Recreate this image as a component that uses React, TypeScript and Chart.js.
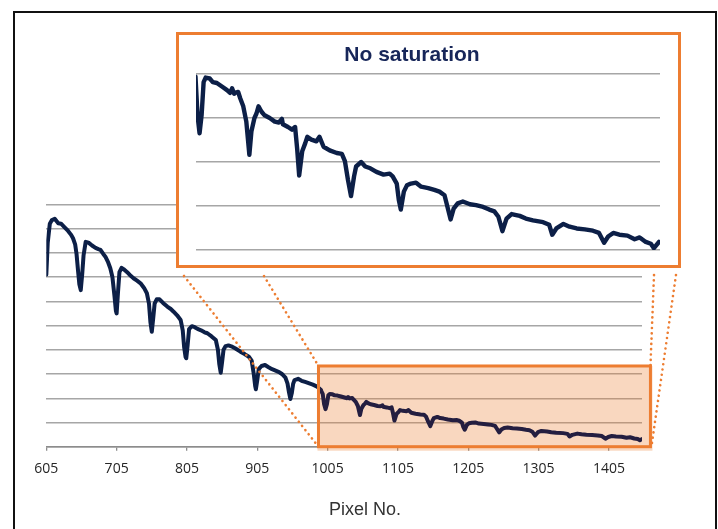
import React, { useEffect, useRef } from "react";
import { Chart, registerables } from "chart.js";

Chart.register(...registerables);

// ---------- data ----------
const pixelNo: number[] = [
  605, 607, 610, 613, 617, 622, 626, 630, 636, 640, 643, 646, 648, 650, 652, 654, 656, 658, 661, 665,
  670, 675, 679, 682, 686, 689, 693, 696, 699, 702, 704, 705, 707, 709, 712, 716, 720, 725, 729, 734,
  739, 744, 748, 751, 753, 755, 757, 759, 762, 766, 771, 777, 782, 786, 791, 796, 799, 801, 803, 804,
  806, 808, 812, 816, 820, 825, 830, 834, 840, 846, 849, 851, 853, 855, 857, 860, 864, 868, 874, 881,
  887, 893, 897, 900, 902, 903, 905, 907, 911, 916, 921, 926, 931, 936, 940, 945, 948, 950, 952, 954,
  956, 958, 963, 968, 973, 978, 984, 990, 995, 998, 1000, 1002, 1004, 1006, 1008, 1012, 1015, 1019, 1024,
  1029, 1032, 1034, 1036, 1037, 1040, 1042, 1045, 1048, 1051, 1053, 1056, 1058, 1060, 1063, 1066, 1071,
  1076, 1080, 1083, 1084, 1089, 1093, 1096, 1098, 1100, 1103, 1106, 1108, 1112, 1117, 1120, 1124, 1130,
  1137, 1142, 1145, 1148, 1151, 1154, 1156, 1161, 1165, 1170, 1176, 1183, 1189, 1192, 1196, 1198, 1200,
  1203, 1206, 1210, 1215, 1220, 1227, 1233, 1238, 1243, 1245, 1249, 1252, 1256, 1261, 1268, 1274, 1281,
  1287, 1292, 1296, 1300, 1304, 1309, 1317, 1323, 1330, 1340, 1346, 1349, 1353, 1360, 1366, 1373, 1381,
  1389, 1395, 1400, 1404, 1409, 1415, 1423, 1430, 1435, 1441, 1446, 1449, 1454,
];

const intensity: number[] = [
  7.1, 8.4, 9.2, 9.35, 9.4, 9.22, 9.2, 9.08, 8.9, 8.75, 8.6, 8.35, 7.95, 7.3, 6.7, 6.46, 7.1, 7.9, 8.45, 8.42,
  8.3, 8.2, 8.15, 8.12, 7.95, 7.84, 7.6, 7.36, 7.0, 6.2, 5.6, 5.5, 6.4, 7.2, 7.38, 7.3, 7.2, 7.05, 6.95, 6.85,
  6.74, 6.55, 6.33, 5.9, 5.15, 4.74, 5.3, 5.9, 6.08, 6.08, 5.93, 5.78, 5.68, 5.57, 5.42, 5.23, 4.8, 4.1, 3.7, 3.65,
  4.2, 4.85, 4.97, 4.93, 4.86, 4.8, 4.72, 4.68, 4.55, 4.4, 4.0, 3.4, 3.05, 3.5, 4.0, 4.15, 4.18, 4.14, 4.05, 3.92,
  3.82, 3.71, 3.55, 3.0, 2.5, 2.37, 2.75, 3.2, 3.33, 3.37, 3.28, 3.2, 3.14, 3.08, 3.0, 2.85, 2.6, 2.25, 1.97, 2.2,
  2.6, 2.75, 2.8, 2.72, 2.67, 2.62, 2.56, 2.48, 2.35, 2.18, 1.75, 1.55, 1.75, 2.12, 2.17, 2.16, 2.12, 2.11, 2.07,
  2.03, 2.0, 2.05, 1.99, 2.0, 2.01, 1.94, 1.85, 1.68, 1.31, 1.57, 1.72, 1.77, 1.85, 1.79, 1.75, 1.72,
  1.68, 1.67, 1.71, 1.65, 1.62, 1.59, 1.62, 1.38, 1.08, 1.35, 1.44, 1.51, 1.48, 1.46, 1.51, 1.4, 1.36,
  1.33, 1.32, 1.24, 1.03, 0.85, 1.07, 1.18, 1.23, 1.18, 1.16, 1.12, 1.09, 1.1, 1.07, 0.99, 0.81, 0.7,
  0.9, 0.97, 0.99, 1.0, 0.955, 0.94, 0.92, 0.9, 0.86, 0.77, 0.59, 0.71, 0.77, 0.79, 0.76, 0.75, 0.73,
  0.7, 0.68, 0.62, 0.46, 0.6, 0.65, 0.63, 0.6, 0.58, 0.56, 0.53, 0.42, 0.49, 0.54, 0.51, 0.49, 0.48,
  0.465, 0.44, 0.33, 0.4, 0.44, 0.42, 0.41, 0.37, 0.39, 0.34, 0.32, 0.27, 0.34,
];

const xTickLabels: number[] = [605, 705, 805, 905, 1005, 1105, 1205, 1305, 1405];
const mainGridValues: number[] = [0, 1, 2, 3, 4, 5, 6, 7, 8, 9, 10];
const insetGridValues: number[] = [0.25, 0.74, 1.23, 1.72, 2.21];
const mainXRange: number[] = [605, 1452];
const insetXRange: number[] = [998.5, 1455];
const zoomWindow: number[] = [992, 1464]; // highlighted pixel range
const zoomWindowTop = 3.33;

const insetTitle = "No saturation";
const xAxisTitle = "Pixel No.";

// ---------- styles ----------
const LINE = "#0c1f47";
const LINE_IN_BOX = "#241e40";
const ORANGE = "#ED7D31";
const GRID = "#a6a6a6";

const points = pixelNo.map((x, i) => ({ x, y: intensity[i] }));

function setTicks(values: number[]) {
  return (scale: any) => {
    scale.ticks = values.map((v) => ({ value: v }));
  };
}

const zoomPlugin = {
  id: "zoomBox",
  beforeDatasetsDraw(chart: any) {
    const { ctx, scales } = chart;
    const l = scales.x.getPixelForValue(zoomWindow[0]);
    const r = scales.x.getPixelForValue(zoomWindow[1]);
    const t = scales.y.getPixelForValue(zoomWindowTop);
    const b = scales.y.getPixelForValue(0);
    ctx.save();
    ctx.fillStyle = "rgba(237,125,49,0.31)";
    ctx.fillRect(l - 1, t, r - l + 3, b - t + 4);
    ctx.restore();
  },
  afterDatasetsDraw(chart: any) {
    const { ctx, scales } = chart;
    const l = scales.x.getPixelForValue(zoomWindow[0]);
    const r = scales.x.getPixelForValue(zoomWindow[1]);
    const t = scales.y.getPixelForValue(zoomWindowTop);
    const b = scales.y.getPixelForValue(0);
    ctx.save();
    ctx.strokeStyle = ORANGE;
    ctx.lineWidth = 3;
    ctx.strokeRect(l, t, r - l, b - t);
    // dotted connectors from the inset frame (page coords minus canvas origin 15,13)
    const starts = [
      [184 - 15, 276 - 13],
      [264 - 15, 276 - 13],
      [654 - 15, 275 - 13],
      [676 - 15, 275 - 13],
    ];
    const ends = [
      [l, b],
      [l, t],
      [r, t],
      [r + 1, b],
    ];
    ctx.setLineDash([0.1, 5.2]);
    ctx.lineCap = "round";
    ctx.lineWidth = 2.6;
    for (let i = 0; i < 4; i++) {
      ctx.beginPath();
      ctx.moveTo(starts[i][0], starts[i][1]);
      ctx.lineTo(ends[i][0], ends[i][1]);
      ctx.stroke();
    }
    ctx.restore();
  },
};

export default function App() {
  const mainRef = useRef<HTMLCanvasElement>(null);
  const insetRef = useRef<HTMLCanvasElement>(null);

  useEffect(() => {
    const main = new Chart(mainRef.current!, {
      type: "line",
      data: {
        datasets: [
          {
            data: points,
            borderColor: LINE,
            borderWidth: 4,
            borderJoinStyle: "round",
            borderCapStyle: "round",
            pointRadius: 0,
            tension: 0,
            segment: {
              borderColor: (c: any) =>
                c.p0.parsed.x >= zoomWindow[0] && c.p0.parsed.x < zoomWindow[1] ? LINE_IN_BOX : LINE,
            },
          },
        ],
      },
      options: {
        animation: false,
        responsive: true,
        maintainAspectRatio: false,
        layout: { padding: { left: 31.3, right: 73, top: 191.3, bottom: 42.3 } },
        plugins: {
          legend: { display: false },
          tooltip: { enabled: false },
        },
        scales: {
          x: {
            type: "linear",
            min: mainXRange[0],
            max: mainXRange[1],
            afterBuildTicks: setTicks(xTickLabels),
            afterFit: (s: any) => {
              s.height = 40;
            },
            grid: { display: true, drawOnChartArea: false, drawTicks: true, tickLength: 4, color: "#8c8c8c", lineWidth: 1.3 },
            border: { display: true, color: "#8c8c8c", width: 1.5 },
            ticks: {
              padding: 9.5,
              color: "#262626",
              maxRotation: 0,
              autoSkip: false,
              font: { family: "'Open Sans', sans-serif", size: 14 },
              callback: (v: any) => String(v),
            },
          },
          y: {
            type: "linear",
            min: mainGridValues[0],
            max: mainGridValues[mainGridValues.length - 1],
            afterBuildTicks: setTicks(mainGridValues),
            afterFit: (s: any) => {
              s.width = 0;
            },
            grid: { color: GRID, lineWidth: 1.4, drawTicks: false },
            border: { display: false },
            ticks: { display: false },
          },
        },
      },
      plugins: [zoomPlugin],
    } as any);

    const inset = new Chart(insetRef.current!, {
      type: "line",
      data: {
        datasets: [
          {
            data: points,
            borderColor: LINE,
            borderWidth: 4.4,
            borderJoinStyle: "round",
            borderCapStyle: "round",
            pointRadius: 0,
            tension: 0,
          },
        ],
      },
      options: {
        animation: false,
        responsive: true,
        maintainAspectRatio: false,
        layout: { padding: { left: 17, right: 18, top: 39, bottom: 15 } },
        plugins: { legend: { display: false }, tooltip: { enabled: false } },
        scales: {
          x: { type: "linear", min: insetXRange[0], max: insetXRange[1], display: false },
          y: {
            type: "linear",
            min: insetGridValues[0],
            max: insetGridValues[insetGridValues.length - 1],
            afterBuildTicks: setTicks(insetGridValues),
            afterFit: (s: any) => {
              s.width = 0;
            },
            grid: { color: GRID, lineWidth: 1.4, drawTicks: false },
            border: { display: false },
            ticks: { display: false },
          },
        },
      },
    } as any);

    return () => {
      main.destroy();
      inset.destroy();
    };
  }, []);

  return (
    <div style={{ position: "fixed", left: 0, top: 0, width: 718, height: 529, overflow: "hidden", background: "#fff" }}>
      <div
        style={{
          position: "absolute",
          left: 13,
          top: 11,
          width: 700,
          height: 540,
          border: "2px solid #111",
          borderBottom: "none",
        }}
      />
      <div style={{ position: "absolute", left: 15, top: 13, width: 700, height: 516 }}>
        <canvas ref={mainRef} />
      </div>
      <div
        style={{
          position: "absolute",
          left: 15,
          top: 500,
          width: 700,
          textAlign: "center",
          fontFamily: "'Liberation Sans', Arial, sans-serif",
          fontSize: 18,
          lineHeight: "18px",
          color: "#333333",
          whiteSpace: "nowrap",
        }}
      >
        {xAxisTitle}
      </div>
      <div
        style={{
          position: "absolute",
          left: 176,
          top: 32,
          width: 499,
          height: 230,
          border: `3px solid ${ORANGE}`,
          background: "#fff",
        }}
      >
        <div style={{ position: "absolute", left: 0, top: 0, width: 499, height: 230 }}>
          <canvas ref={insetRef} />
        </div>
        <div
          style={{
            position: "absolute",
            left: 0,
            top: 8,
            width: 466,
            textAlign: "center",
            fontFamily: "'Liberation Sans', Arial, sans-serif",
            fontWeight: "bold",
            fontSize: 21,
            lineHeight: "21px",
            color: "#172659",
            whiteSpace: "nowrap",
          }}
        >
          {insetTitle}
        </div>
      </div>
    </div>
  );
}
